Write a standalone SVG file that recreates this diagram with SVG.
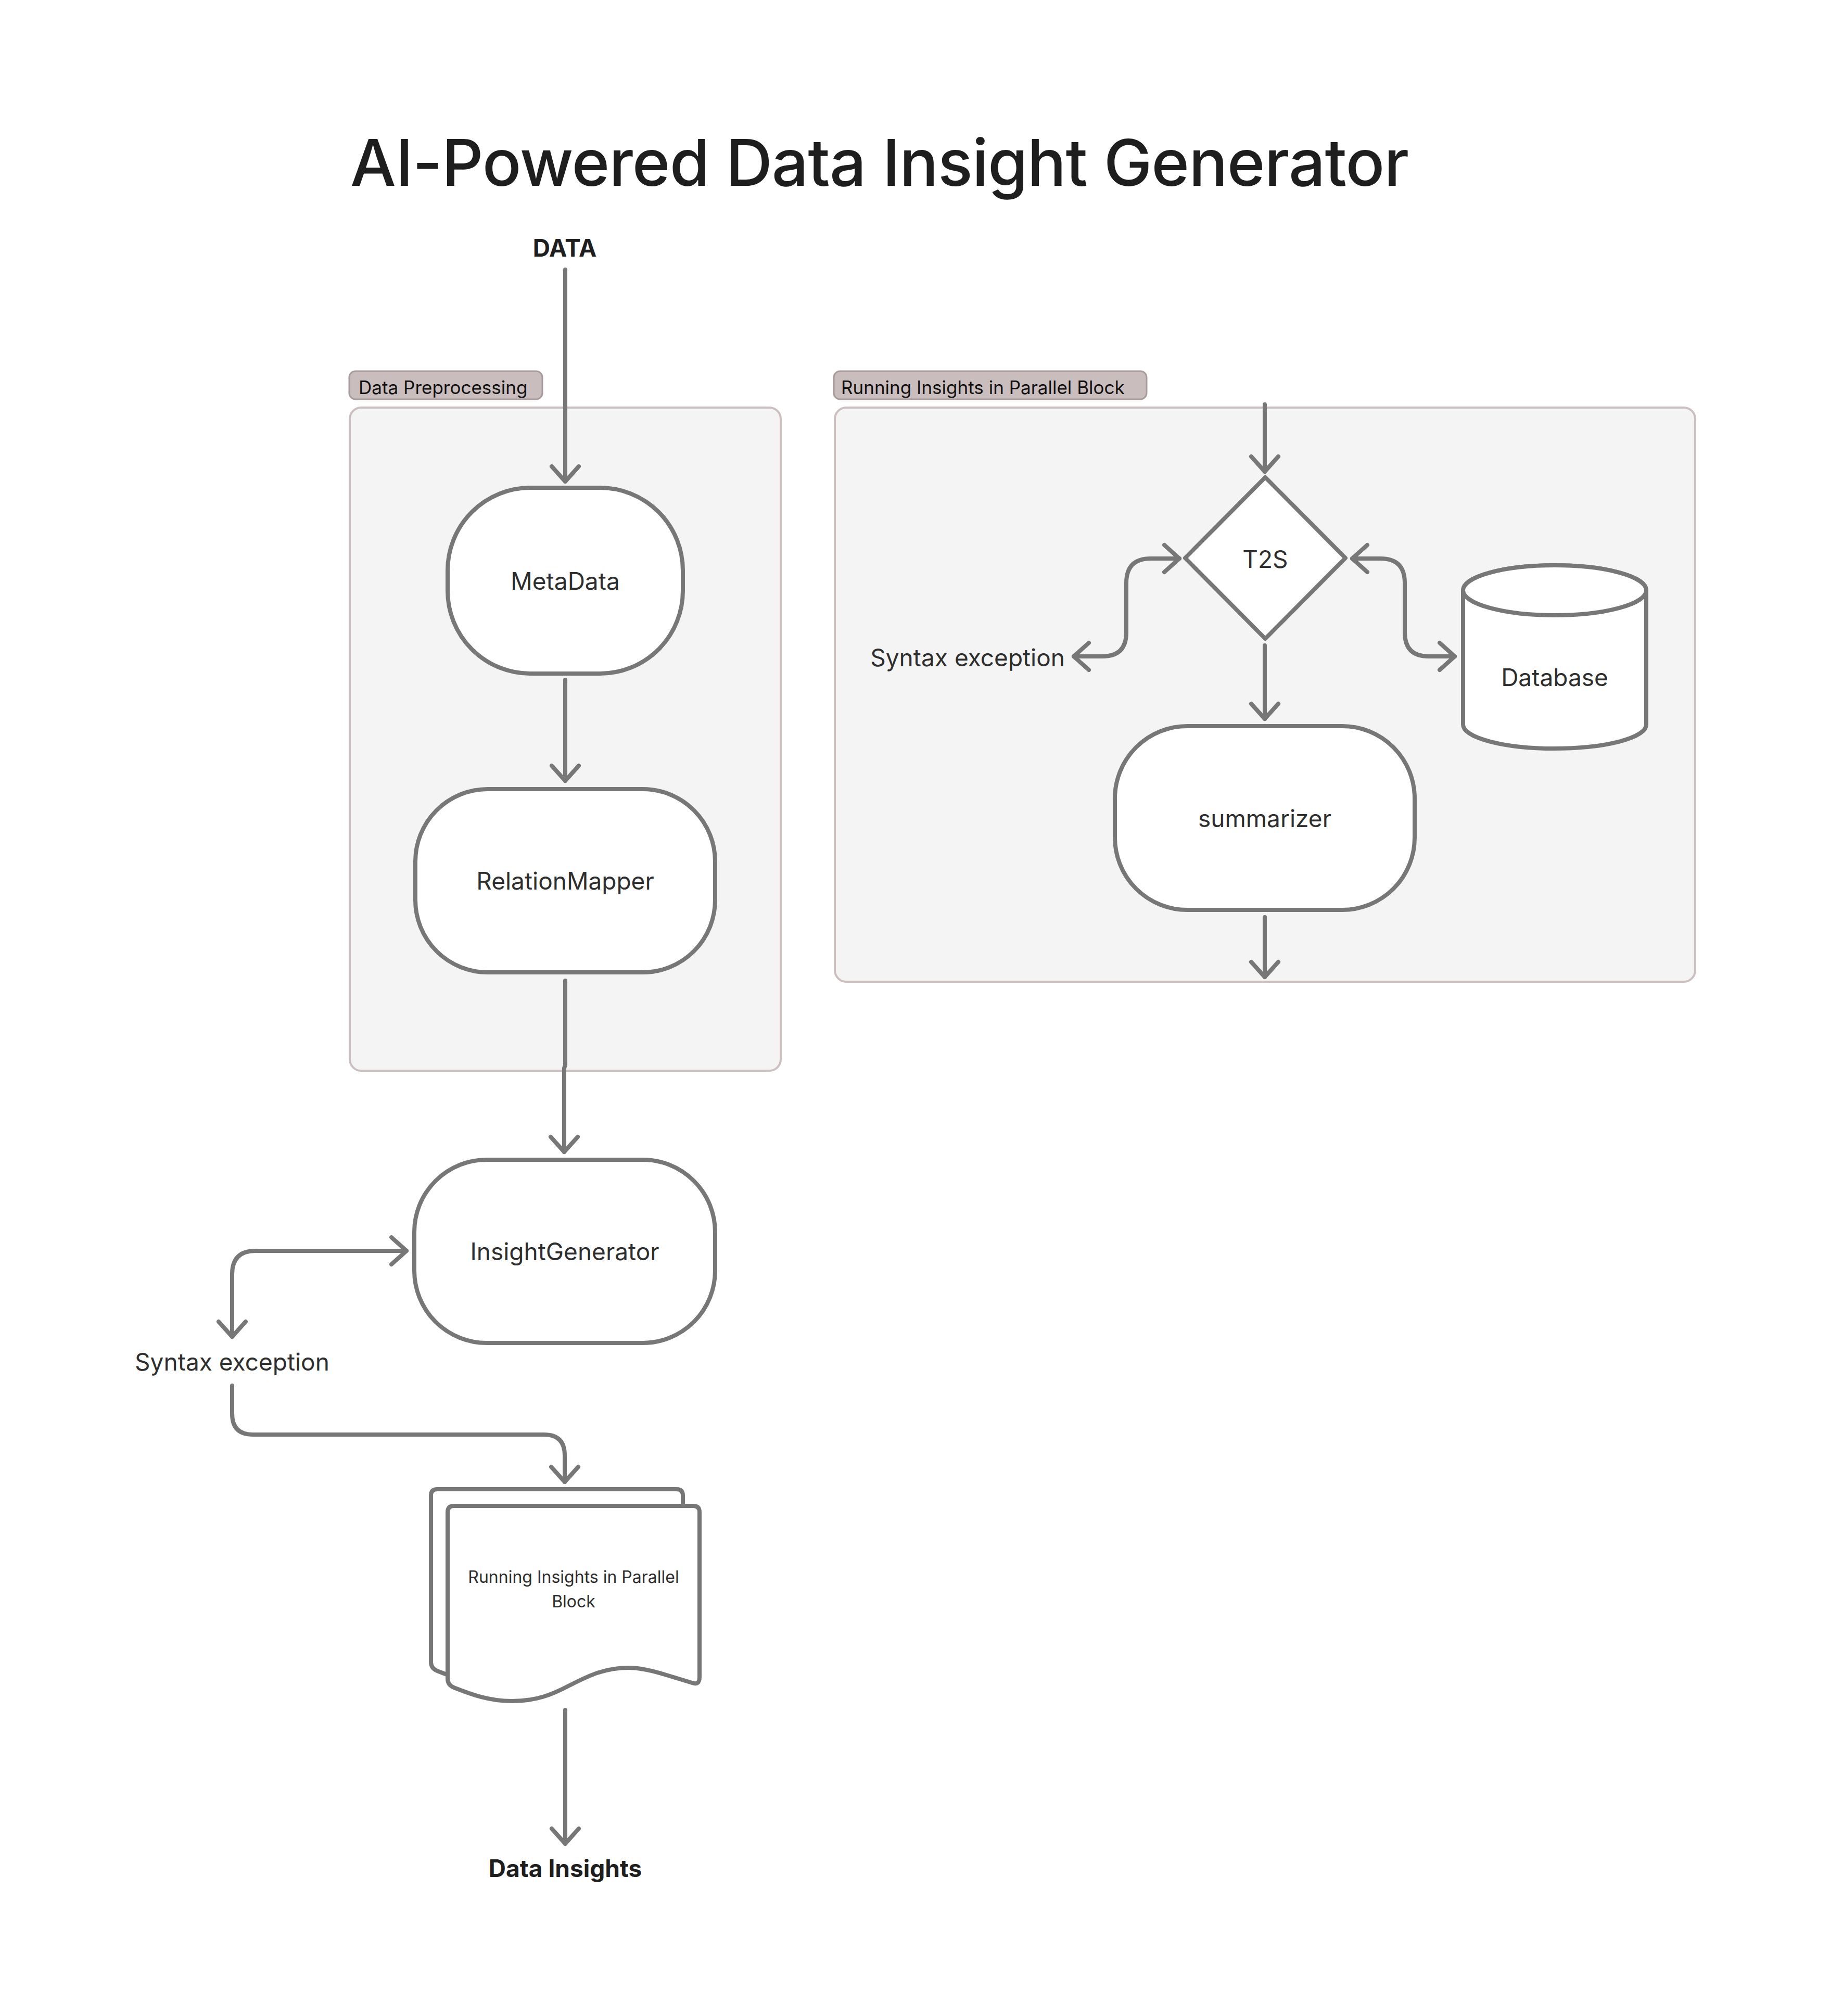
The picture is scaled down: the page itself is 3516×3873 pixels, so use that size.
<svg xmlns="http://www.w3.org/2000/svg" width="3516" height="3873" viewBox="0 0 3516 3873">
<defs>
<style>
.grp{fill:#F4F4F4;stroke:#CBBFBF;stroke-width:4}
.pill{fill:#C9BDBD;stroke:#A89B9B;stroke-width:3}
.pilltxt{font-family:Inter,"Noto Sans",sans-serif;font-size:35px;fill:#111111}
.node{fill:#FFFFFF;stroke:#777777;stroke-width:8;stroke-linejoin:round}
.ntxt{font-family:Inter,"Noto Sans",sans-serif;font-size:46px;fill:#2E2E2E;text-anchor:middle}
.btxt{font-family:Inter,"Noto Sans",sans-serif;font-size:46px;font-weight:700;fill:#1E1E1E;text-anchor:middle}
.conn{fill:none;stroke:#777777;stroke-width:8;stroke-linecap:round;stroke-linejoin:round}
.title{font-family:Inter,"Noto Sans",sans-serif;font-size:124px;font-weight:500;fill:#1E1E1E;letter-spacing:-1px}
</style>
<marker id="ah" markerUnits="userSpaceOnUse" markerWidth="80" markerHeight="80" viewBox="-40 -40 80 80" refX="0" refY="0" orient="auto-start-reverse" overflow="visible">
<path d="M-29,-26 L0,0 L-29,26" fill="none" stroke="#777777" stroke-width="8" stroke-linecap="round" stroke-linejoin="round"/>
</marker>
</defs>
<rect width="3516" height="3873" fill="#FFFFFF"/>

<text class="title" x="673" y="357">AI-Powered Data Insight Generator</text>

<g id="group-preprocessing">
<rect class="grp" x="672" y="783" width="828" height="1274" rx="22"/>
<rect class="pill" x="671" y="713" width="371" height="54" rx="12"/>
<text class="pilltxt" x="689" y="757">Data Preprocessing</text>
</g>

<g id="group-parallel">
<rect class="grp" x="1604" y="783" width="1653" height="1103" rx="22"/>
<rect class="pill" x="1602" y="713" width="601" height="54" rx="12"/>
<text class="pilltxt" x="1616" y="757">Running Insights in Parallel Block</text>
</g>

<g id="connectors">
<path class="conn" d="M1086 518 V925" marker-end="url(#ah)"/>
<path class="conn" d="M1086 1306 V1500" marker-end="url(#ah)"/>
<path class="conn" d="M1086 1884 V2046 L1084 2052 V2213" marker-end="url(#ah)"/>
<path class="conn" d="M781 2403 H491 Q446 2403 446 2448 V2568" marker-start="url(#ah)" marker-end="url(#ah)"/>
<path class="conn" d="M446 2662 V2716 Q446 2756 486 2756 H1045 Q1085 2756 1085 2796 V2847" marker-end="url(#ah)"/>
<path class="conn" d="M2430 777 V906" marker-end="url(#ah)"/>
<path class="conn" d="M2266 1073 H2211 Q2164 1073 2164 1120 V1215 Q2164 1261 2118 1261 H2063" marker-start="url(#ah)" marker-end="url(#ah)"/>
<path class="conn" d="M2598 1073 H2652 Q2699 1073 2699 1120 V1215 Q2699 1261 2745 1261 H2795" marker-start="url(#ah)" marker-end="url(#ah)"/>
<path class="conn" d="M2430 1240 V1381" marker-end="url(#ah)"/>
<path class="conn" d="M2430 1762 V1877" marker-end="url(#ah)"/>
<path class="conn" d="M1086 3285 V3542" marker-end="url(#ah)"/>
</g>

<g id="node-data">
<text class="btxt" x="1085" y="493">DATA</text>
</g>

<g id="node-metadata">
<rect class="node" x="860" y="937" width="452" height="357" rx="159"/>
<text class="ntxt" x="1086" y="1133">MetaData</text>
</g>

<g id="node-relationmapper">
<rect class="node" x="798" y="1516" width="576" height="352" rx="139"/>
<text class="ntxt" x="1086" y="1709">RelationMapper</text>
</g>

<g id="node-insightgenerator">
<rect class="node" x="796" y="2228" width="578" height="352" rx="139"/>
<text class="ntxt" x="1085" y="2421">InsightGenerator</text>
</g>

<g id="node-syntax-exception-left">
<text class="ntxt" x="446" y="2633">Syntax exception</text>
</g>

<g id="node-running-insights-doc">
<path class="node" d="M840 2861 H1300 Q1312 2861 1312 2873 V3190 Q1312 3206 1298 3201 L1242 3184 C1208 3174 1188 3172 1177 3172 C1128 3172 1098 3188 1062 3206 C1028 3224 998 3236 951 3236 C908 3236 873 3223 840 3210 Q828 3205 828 3193 V2873 Q828 2861 840 2861 Z"/>
<path class="node" d="M872 2893 H1332 Q1344 2893 1344 2905 V3222 Q1344 3238 1330 3233 L1274 3216 C1240 3206 1220 3204 1209 3204 C1160 3204 1130 3220 1094 3238 C1060 3256 1030 3268 983 3268 C940 3268 905 3255 872 3242 Q860 3237 860 3225 V2905 Q860 2893 872 2893 Z"/>
<text class="ntxt" style="font-size:32px" x="1102" y="3041">Running Insights in Parallel</text>
<text class="ntxt" style="font-size:32px" x="1102" y="3088">Block</text>
</g>

<g id="node-data-insights">
<text class="btxt" x="1086" y="3606">Data Insights</text>
</g>

<g id="node-t2s">
<path class="node" d="M2431 917 L2585 1072 L2431 1227 L2277 1072 Z"/>
<text class="ntxt" x="2431" y="1091">T2S</text>
</g>

<g id="node-syntax-exception-right">
<text class="ntxt" style="text-anchor:end" x="2046" y="1280">Syntax exception</text>
</g>

<g id="node-database">
<path class="node" d="M2811 1134 V1392 A176 46 0 0 0 3163 1392 V1134 A176 48 0 0 0 2811 1134 Z"/>
<ellipse class="node" cx="2987" cy="1134" rx="176" ry="48"/>
<text class="ntxt" x="2987" y="1318">Database</text>
</g>

<g id="node-summarizer">
<rect class="node" x="2142" y="1395" width="576" height="353" rx="139"/>
<text class="ntxt" x="2430" y="1589">summarizer</text>
</g>
</svg>
